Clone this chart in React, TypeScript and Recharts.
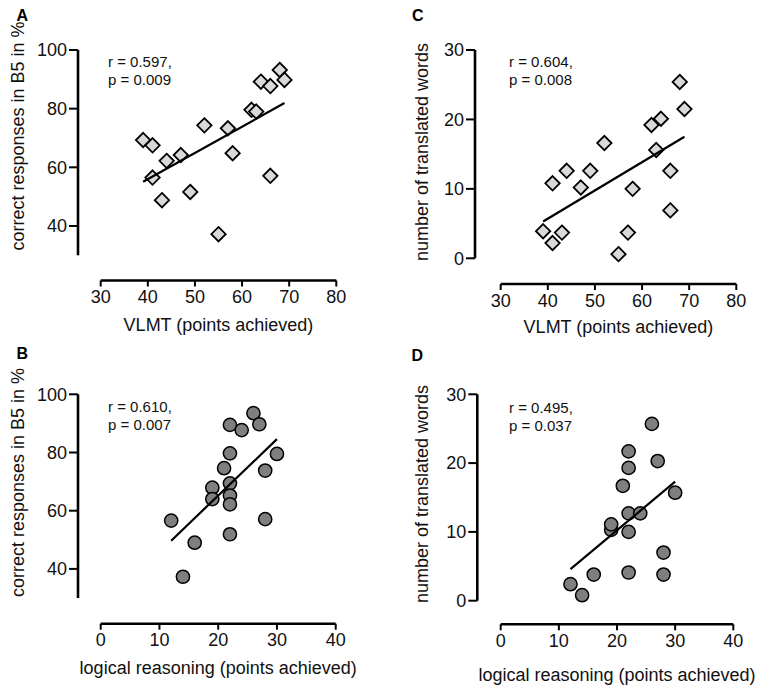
import React from "react";
import { ScatterChart, Scatter, XAxis, YAxis, ReferenceLine, Label } from "recharts";

// VLMT scores (same participants in panels A and C)
const vlmtScores = [39, 41, 41, 43, 44, 47, 49, 52, 55, 57, 58, 62, 63, 64, 66, 66, 68, 69];
const b5ByVlmt = [69.3, 67.5, 56.5, 48.8, 62.2, 64.2, 51.6, 74.3, 37.2, 73.3, 64.8, 79.6, 79, 89.2, 87.7, 57.1, 93.2, 89.8];
const wordsByVlmt = [3.9, 10.8, 2.2, 3.7, 12.6, 10.2, 12.6, 16.6, 0.6, 3.7, 10, 19.2, 15.6, 20.1, 12.6, 6.9, 25.4, 21.5];

// logical reasoning scores
const reasoningB = [12, 14, 16, 19, 19, 21, 22, 22, 22, 22, 22, 22, 24, 26, 27, 28, 28, 30];
const b5ByReasoning = [56.6, 37.3, 49, 67.9, 64, 74.6, 89.5, 79.7, 69.4, 65.2, 62.2, 51.9, 87.7, 93.5, 89.7, 73.8, 57.1, 79.5];
const reasoningD = [12, 14, 16, 19, 19, 21, 22, 22, 22, 22, 22, 24, 26, 27, 28, 28, 30];
const wordsByReasoning = [2.4, 0.8, 3.8, 10.3, 11.1, 16.7, 21.7, 19.3, 12.7, 10, 4.1, 12.7, 25.7, 20.3, 7, 3.8, 15.7];

// regression line end points
const fitAx = [39, 69];
const fitAy = [55.1, 81.9];
const fitCx = [39, 69];
const fitCy = [5.3, 17.5];
const fitBx = [12, 30];
const fitBy = [49.7, 84.6];
const fitDx = [12, 30];
const fitDy = [4.6, 17.3];

const vlmtTicks = [30, 40, 50, 60, 70, 80];
const reasoningTicks = [0, 10, 20, 30, 40];
const b5Ticks = [40, 60, 80, 100];
const wordsTicks = [0, 10, 20, 30];

const FONT = '"Liberation Sans", Arial, Helvetica, sans-serif';
const W = 384;
const H = 345;
const Y_AXIS_W = 60;
const X_AXIS_H = 30;

const zip = (xs: number[], ys: number[]) => xs.map((x, i) => ({ x, y: ys[i] }));

const Diamond = (props: any) => {
  const { cx, cy } = props;
  const r = 7.2;
  return (
    <polygon
      points={`${cx},${cy - r} ${cx + r},${cy} ${cx},${cy + r} ${cx - r},${cy}`}
      fill="#d9d9d9"
      stroke="#000"
      strokeWidth={1.8}
    />
  );
};

const Dot = (props: any) => {
  const { cx, cy } = props;
  return <circle cx={cx} cy={cy} r={6.6} fill="#7f7f7f" stroke="#000" strokeWidth={1.5} />;
};

const NoShape = () => <g />;

type Layout = {
  yAxisX: number;
  xStartPx: number;
  xEndPx: number;
  yTopPx: number;
  yBottomPx: number;
  xAxisY: number;
  xTitleY: number;
  yTitleX: number;
  yTitleY: number;
  statsX: number;
  statsY: number;
  letterX: number;
  letterY: number;
};

type PanelProps = {
  letter: string;
  pos: [number, number];
  points: { x: number; y: number }[];
  fit: { x: number; y: number }[];
  marker: "diamond" | "circle";
  xTicks: number[];
  yTicks: number[];
  yAxisLo: number;
  xTitle: string;
  yTitle: string;
  stats: [string, string];
  layout: Layout;
};

function Panel({ letter, pos, points, fit, marker, xTicks, yTicks, yAxisLo, xTitle, yTitle, stats, layout }: PanelProps) {
  const xMin = xTicks[0];
  const xMax = xTicks[xTicks.length - 1];
  const yMax = yTicks[yTicks.length - 1];

  // axes are offset from the data area (Prism style), so stretch the domain to make room
  const pxPerX = (layout.xEndPx - layout.xStartPx) / (xMax - xMin);
  const xLo = xMin - (layout.xStartPx - layout.yAxisX) / pxPerX;
  const pxPerY = (layout.yBottomPx - layout.yTopPx) / (yMax - yAxisLo);
  const yLo = yAxisLo - (layout.xAxisY - layout.yBottomPx) / pxPerY;

  const margin = {
    top: layout.yTopPx,
    right: W - layout.xEndPx,
    left: layout.yAxisX - Y_AXIS_W,
    bottom: H - layout.xAxisY - X_AXIS_H,
  };

  const xCenter = (layout.xStartPx + layout.xEndPx) / 2;

  return (
    <div style={{ position: "absolute", left: pos[0], top: pos[1], width: W, height: H }}>
      <ScatterChart width={W} height={H} margin={margin}>
        <XAxis
          type="number"
          dataKey="x"
          domain={[xLo, xMax]}
          allowDataOverflow
          ticks={xTicks}
          axisLine={false}
          tickLine={{ stroke: "#000", strokeWidth: 2 }}
          tickSize={6}
          tickMargin={4}
          height={X_AXIS_H}
          tick={{ fontSize: 18, fill: "#111", fontFamily: FONT }}
        >
          <Label
            content={() => (
              <text x={xCenter} y={layout.xTitleY} textAnchor="middle" fontSize={18} fontFamily={FONT} fill="#111">
                {xTitle}
              </text>
            )}
          />
        </XAxis>
        <YAxis
          type="number"
          dataKey="y"
          domain={[yLo, yMax]}
          allowDataOverflow
          ticks={yTicks}
          axisLine={false}
          tickLine={{ stroke: "#000", strokeWidth: 2 }}
          tickSize={9}
          tickMargin={2}
          width={Y_AXIS_W}
          tick={{ fontSize: 18, fill: "#111", fontFamily: FONT }}
        >
          <Label
            content={() => (
              <text
                x={layout.yTitleX}
                y={layout.yTitleY}
                transform={`rotate(-90 ${layout.yTitleX} ${layout.yTitleY})`}
                textAnchor="middle"
                fontSize={18}
                fontFamily={FONT}
                fill="#111"
              >
                {yTitle}
              </text>
            )}
          />
        </YAxis>
        <ReferenceLine
          segment={[{ x: xMin, y: yLo }, { x: xMax, y: yLo }]}
          stroke="#000"
          strokeWidth={2.6}
          ifOverflow="visible"
        />
        <ReferenceLine
          segment={[{ x: xLo, y: yAxisLo }, { x: xLo, y: yMax }]}
          stroke="#000"
          strokeWidth={2.6}
          ifOverflow="visible"
        />
        <Scatter data={points} shape={marker === "diamond" ? Diamond : Dot} isAnimationActive={false} />
        <Scatter
          data={fit}
          line={{ stroke: "#000", strokeWidth: 2.2 }}
          shape={NoShape}
          legendType="none"
          isAnimationActive={false}
        />
      </ScatterChart>
      <svg width={W} height={H} style={{ position: "absolute", left: 0, top: 0, pointerEvents: "none" }}>
        <text x={layout.letterX} y={layout.letterY} fontSize={16} fontWeight="bold" fontFamily={FONT} fill="#000">
          {letter}
        </text>
        <text x={layout.statsX} y={layout.statsY} fontSize={15} fontFamily={FONT} fill="#111">
          {stats[0]}
        </text>
        <text x={layout.statsX} y={layout.statsY + 18} fontSize={15} fontFamily={FONT} fill="#111">
          {stats[1]}
        </text>
      </svg>
    </div>
  );
}

export default function App() {
  return (
    <div style={{ position: "absolute", left: 0, top: 0, width: 768, height: 690, background: "#fff" }}>
      <Panel
        letter="A"
        pos={[0, 0]}
        points={zip(vlmtScores, b5ByVlmt)}
        fit={zip(fitAx, fitAy)}
        marker="diamond"
        xTicks={vlmtTicks}
        yTicks={b5Ticks}
        yAxisLo={30}
        xTitle="VLMT (points achieved)"
        yTitle="correct responses in B5 in %"
        stats={["r = 0.597,", "p = 0.009"]}
        layout={{
          yAxisX: 78, xStartPx: 100.7, xEndPx: 336.3, yTopPx: 50, yBottomPx: 255.3, xAxisY: 280.5,
          xTitleY: 331, yTitleX: 23.5, yTitleY: 136, statsX: 108, statsY: 67.3, letterX: 16.5, letterY: 20.7,
        }}
      />
      <Panel
        letter="C"
        pos={[384, 0]}
        points={zip(vlmtScores, wordsByVlmt)}
        fit={zip(fitCx, fitCy)}
        marker="diamond"
        xTicks={vlmtTicks}
        yTicks={wordsTicks}
        yAxisLo={0}
        xTitle="VLMT (points achieved)"
        yTitle="number of translated words"
        stats={["r = 0.604,", "p = 0.008"]}
        layout={{
          yAxisX: 91, xStartPx: 116.7, xEndPx: 352.3, yTopPx: 50, yBottomPx: 258.3, xAxisY: 284,
          xTitleY: 333, yTitleX: 44, yTitleY: 152, statsX: 125, statsY: 67.3, letterX: 28, letterY: 20.5,
        }}
      />
      <Panel
        letter="B"
        pos={[0, 345]}
        points={zip(reasoningB, b5ByReasoning)}
        fit={zip(fitBx, fitBy)}
        marker="circle"
        xTicks={reasoningTicks}
        yTicks={b5Ticks}
        yAxisLo={30}
        xTitle="logical reasoning (points achieved)"
        yTitle="correct responses in B5 in %"
        stats={["r = 0.610,", "p = 0.007"]}
        layout={{
          yAxisX: 78, xStartPx: 100.7, xEndPx: 335.7, yTopPx: 49.3, yBottomPx: 253, xAxisY: 278.7,
          xTitleY: 329, yTitleX: 23.5, yTitleY: 137.5, statsX: 108, statsY: 67, letterX: 16.5, letterY: 14,
        }}
      />
      <Panel
        letter="D"
        pos={[384, 345]}
        points={zip(reasoningD, wordsByReasoning)}
        fit={zip(fitDx, fitDy)}
        marker="circle"
        xTicks={reasoningTicks}
        yTicks={wordsTicks}
        yAxisLo={0}
        xTitle="logical reasoning (points achieved)"
        yTitle="number of translated words"
        stats={["r = 0.495,", "p = 0.037"]}
        layout={{
          yAxisX: 93.3, xStartPx: 116.7, xEndPx: 349.3, yTopPx: 49.3, yBottomPx: 255.7, xAxisY: 279.3,
          xTitleY: 336, yTitleX: 44, yTitleY: 149, statsX: 125, statsY: 68, letterX: 27.5, letterY: 16,
        }}
      />
    </div>
  );
}
